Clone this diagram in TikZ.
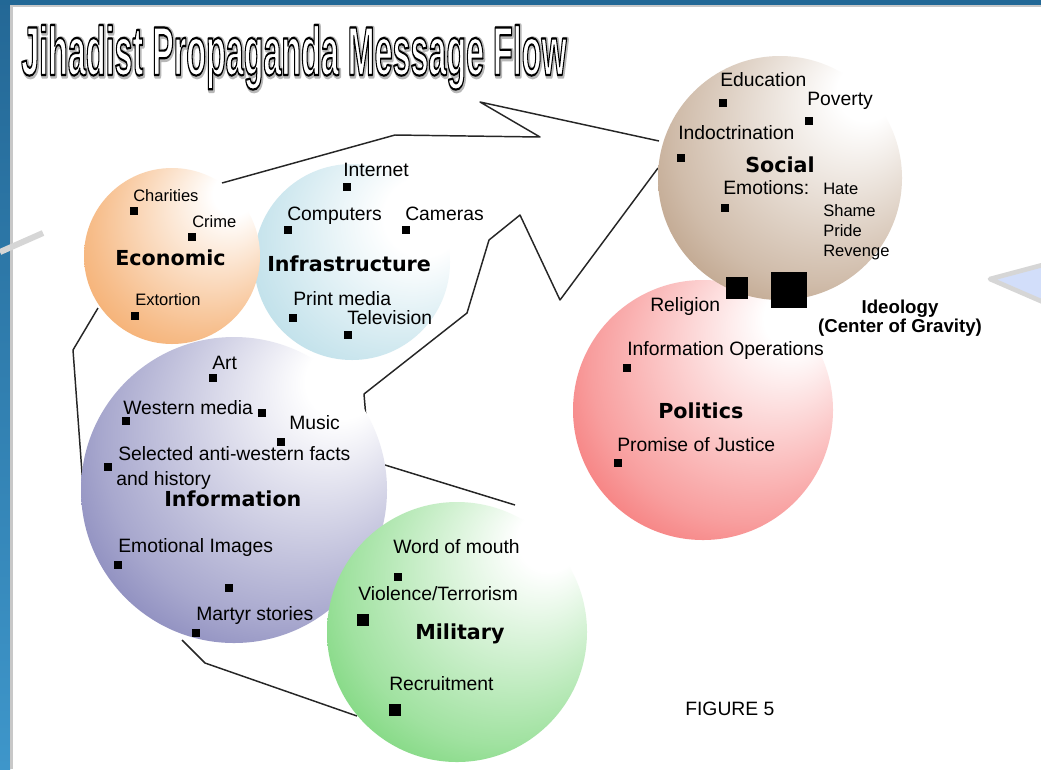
\documentclass[tikz,border=0pt]{standalone}
\usepackage{fontspec}
\setmainfont{Liberation Sans}
\newfontfamily\dvfont{DejaVu Sans}
\usepackage{graphicx}
\definecolor{econcol}{RGB}{240,138,48}
\definecolor{infracol}{RGB}{150,204,220}
\definecolor{infocol}{RGB}{62,62,146}
\definecolor{milcol}{RGB}{44,190,44}
\definecolor{socialcol}{RGB}{150,106,66}
\definecolor{polcol}{RGB}{240,40,40}
\definecolor{topblue}{RGB}{34,104,150}
\definecolor{bandtop}{RGB}{36,104,150}
\definecolor{bandbot}{RGB}{62,150,202}
\definecolor{edgegray}{RGB}{200,200,200}
\definecolor{ptrgray}{RGB}{214,214,214}
\definecolor{trifill}{RGB}{210,222,250}
\pgfdeclareradialshading{econshade}{\pgfpoint{20bp}{20bp}}{color(0bp)=(white); color(6bp)=(white); color(30bp)=(econcol!55); color(52bp)=(econcol)}
\pgfdeclareradialshading{infrashade}{\pgfpoint{22bp}{14bp}}{color(0bp)=(white); color(10bp)=(white); color(34bp)=(infracol!55); color(58bp)=(infracol)}
\pgfdeclareradialshading{infoshade}{\pgfpoint{20bp}{20bp}}{color(0bp)=(white); color(6bp)=(white); color(30bp)=(infocol!45); color(52bp)=(infocol)}
\pgfdeclareradialshading{milshade}{\pgfpoint{20bp}{20bp}}{color(0bp)=(white); color(6bp)=(white); color(30bp)=(milcol!45); color(52bp)=(milcol)}
\pgfdeclareradialshading{socialshade}{\pgfpoint{20bp}{20bp}}{color(0bp)=(white); color(6bp)=(white); color(30bp)=(socialcol!45); color(52bp)=(socialcol)}
\pgfdeclareradialshading{polshade}{\pgfpoint{20bp}{20bp}}{color(0bp)=(white); color(6bp)=(white); color(30bp)=(polcol!45); color(52bp)=(polcol)}
\newcommand{\hollowtext}[1]{{\color{white}\special{pdf:literal direct 2 Tr 1.6 w 1 j 0 G}#1\special{pdf:literal direct 0 Tr}}}
\newcommand{\halotext}[1]{{\color{black!28}\special{pdf:literal direct 2 Tr 4 w 1 j}#1\special{pdf:literal direct 0 Tr}}}
\tikzset{
  lbl/.style={anchor=mid west, inner sep=0, font=\fontsize{14.5}{17}\selectfont},
  slbl/.style={anchor=mid west, inner sep=0, font=\fontsize{12.4}{15}\selectfont},
  blbl/.style={anchor=mid west, inner sep=0, font=\dvfont\bfseries\fontsize{15.5}{18}\selectfont},
  sq/.style={rectangle, fill=black, draw=none, inner sep=0, minimum size=6pt},
  bsq/.style={sq, minimum size=9pt},
  flow/.style={draw=black!85, line width=1.1pt, line join=round},
  titlestyle/.style={anchor=base west, inner sep=0, font=\bfseries\fontsize{51}{51}\selectfont},
}
\begin{document}
\begin{tikzpicture}[x=0.75pt, y=-0.75pt]
\useasboundingbox (0,0) rectangle (1041,769);
\fill[white] (0,0) rectangle (1041,769);
% frame
\shade[top color=bandtop, bottom color=bandbot] (0,0) rectangle (10,769);
\fill[topblue] (0,0) rectangle (1041,5);
\fill[edgegray] (10,5) rectangle (1041,7);
\fill[edgegray] (10,5) rectangle (12.5,769);
\draw[ptrgray, line width=4.5pt] (0,252) -- (43,233);
\filldraw[fill=trifill, draw=ptrgray, line width=3.5pt, line join=round] (1050,263) -- (990,279) -- (1050,305);
% title
\node[titlestyle] (titleshadow) at (22,76) {\resizebox{409pt}{37.5pt}{\halotext{Jihadist Propaganda Message Flow}}};
\node[titlestyle] (title) at (21,75) {\resizebox{409pt}{37.5pt}{\hollowtext{Jihadist Propaganda Message Flow}}};
% flow path coordinates
\coordinate (f1) at (222,183);
\coordinate (f2) at (395,135);
\coordinate (f3) at (540,137);
\coordinate (f4) at (480,102);
\coordinate (f5) at (659,141);
\coordinate (g1) at (658,168);
\coordinate (g2) at (560,300);
\coordinate (g3) at (520,215);
\coordinate (g4) at (489,240);
\coordinate (g5) at (467,313);
\coordinate (g6) at (364,394);
\coordinate (g7) at (366,418);
\coordinate (h1) at (385,465);
\coordinate (h2) at (515,505);
\coordinate (k1) at (98,308);
\coordinate (k2) at (73,350);
\coordinate (k3) at (84,500);
\coordinate (m1) at (182,640);
\coordinate (m2) at (205,663);
\coordinate (m3) at (357,716);
\draw[flow] (f1) -- (f2) -- (f3) -- (f4) -- (f5);
\draw[flow] (g1) -- (g2) -- (g3) -- (g4) -- (g5) -- (g6) -- (g7);
\draw[flow] (h1) -- (h2);
\draw[flow] (k1) -- (k2) -- (k3);
\draw[flow] (m1) -- (m2) -- (m3);
% circles
\path[shading=infoshade] (234,490) circle [radius=153];
\path[shading=milshade] (457,632) circle [radius=130];
\path[shading=infrashade] (352,262) circle [radius=98];
\path[shading=econshade] (172,256) circle [radius=88];
\path[shading=polshade] (703,410) circle [radius=130];
\path[shading=socialshade] (780,178) circle [radius=122];
% Economic
\node[slbl] (charities) at (133,198) {Charities};
\node[sq] (sqcharities) at (134,211) {};
\node[slbl] (crime) at (192,224) {Crime};
\node[sq] (sqcrime) at (192,237) {};
\node[blbl] (economic) at (115,262) {Economic};
\node[slbl] (extortion) at (135,302) {Extortion};
\node[sq] (sqextortion) at (135,316) {};
% Infrastructure
\node[lbl] (internet) at (343,173) {Internet};
\node[sq] (sqinternet) at (347,187) {};
\node[lbl] (computers) at (287,217) {Computers};
\node[sq] (sqcomputers) at (288,230) {};
\node[lbl] (cameras) at (405,217) {Cameras};
\node[sq] (sqcameras) at (406,230) {};
\node[blbl] (infrastructure) at (267,268) {Infrastructure};
\node[lbl] (printmedia) at (293,302) {Print media};
\node[sq] (sqprint) at (293,318) {};
\node[lbl] (television) at (347,321) {Television};
\node[sq] (sqtv) at (348,335) {};
% Information
\node[lbl] (art) at (212,366) {Art};
\node[sq] (sqart) at (213,378) {};
\node[lbl] (western) at (123,411) {Western media};
\node[sq] (sqwestern) at (126,421) {};
\node[sq] (sqwestern2) at (262,413) {};
\node[lbl] (music) at (289,426) {Music};
\node[sq] (sqmusic) at (281,442) {};
\node[lbl] (selected) at (118,457) {Selected anti-western facts};
\node[lbl] (history) at (116,482) {and history};
\node[sq] (sqselected) at (108,467) {};
\node[blbl] (information) at (164,503) {Information};
\node[lbl] (emotional) at (118,549) {Emotional Images};
\node[sq] (sqemotional) at (118,565) {};
\node[sq] (sqextra) at (229,588) {};
\node[lbl] (martyr) at (196,617) {Martyr stories};
\node[sq] (sqmartyr) at (196,633) {};
% Military
\node[lbl] (wordofmouth) at (393,550) {Word of mouth};
\node[sq] (sqword) at (398,577) {};
\node[lbl] (violence) at (358,597) {Violence/Terrorism};
\node[bsq] (sqviolence) at (363,620) {};
\node[blbl] (military) at (415,636) {Military};
\node[lbl] (recruitment) at (389,687) {Recruitment};
\node[bsq] (sqrecruit) at (395,710) {};
% Social
\node[lbl] (education) at (720,83) {Education};
\node[sq] (sqeducation) at (723,103) {};
\node[lbl] (poverty) at (807,102) {Poverty};
\node[sq] (sqpoverty) at (809,121) {};
\node[lbl] (indoctrination) at (678,136) {Indoctrination};
\node[sq] (sqindoc) at (681,158) {};
\node[blbl] (social) at (745,169) {Social};
\node[lbl] (emotions) at (723,191) {Emotions:};
\node[sq] (sqemotions) at (725,208) {};
\node[slbl] (hate) at (823,191) {Hate};
\node[slbl] (shame) at (823,213) {Shame};
\node[slbl] (pride) at (823,233) {Pride};
\node[slbl] (revenge) at (823,253) {Revenge};
\node[sq, minimum size=16.5pt] (sqreligion) at (737,288) {};
\node[sq, minimum size=27pt] (sqideology) at (789,290) {};
\node[lbl] (religion) at (650,308) {Religion};
\node[inner sep=0, align=center, font=\bfseries\fontsize{14}{14.5}\selectfont] (ideology) at (900,318) {Ideology\\(Center of Gravity)};
% Politics
\node[lbl] (infoops) at (627,352) {Information Operations};
\node[sq] (sqinfoops) at (627,368) {};
\node[blbl] (politics) at (658,415) {Politics};
\node[lbl] (justice) at (617,448) {Promise of Justice};
\node[sq] (sqjustice) at (618,463) {};
% figure label
\node[lbl] (figure) at (685,712) {FIGURE 5};
\end{tikzpicture}
\end{document}
